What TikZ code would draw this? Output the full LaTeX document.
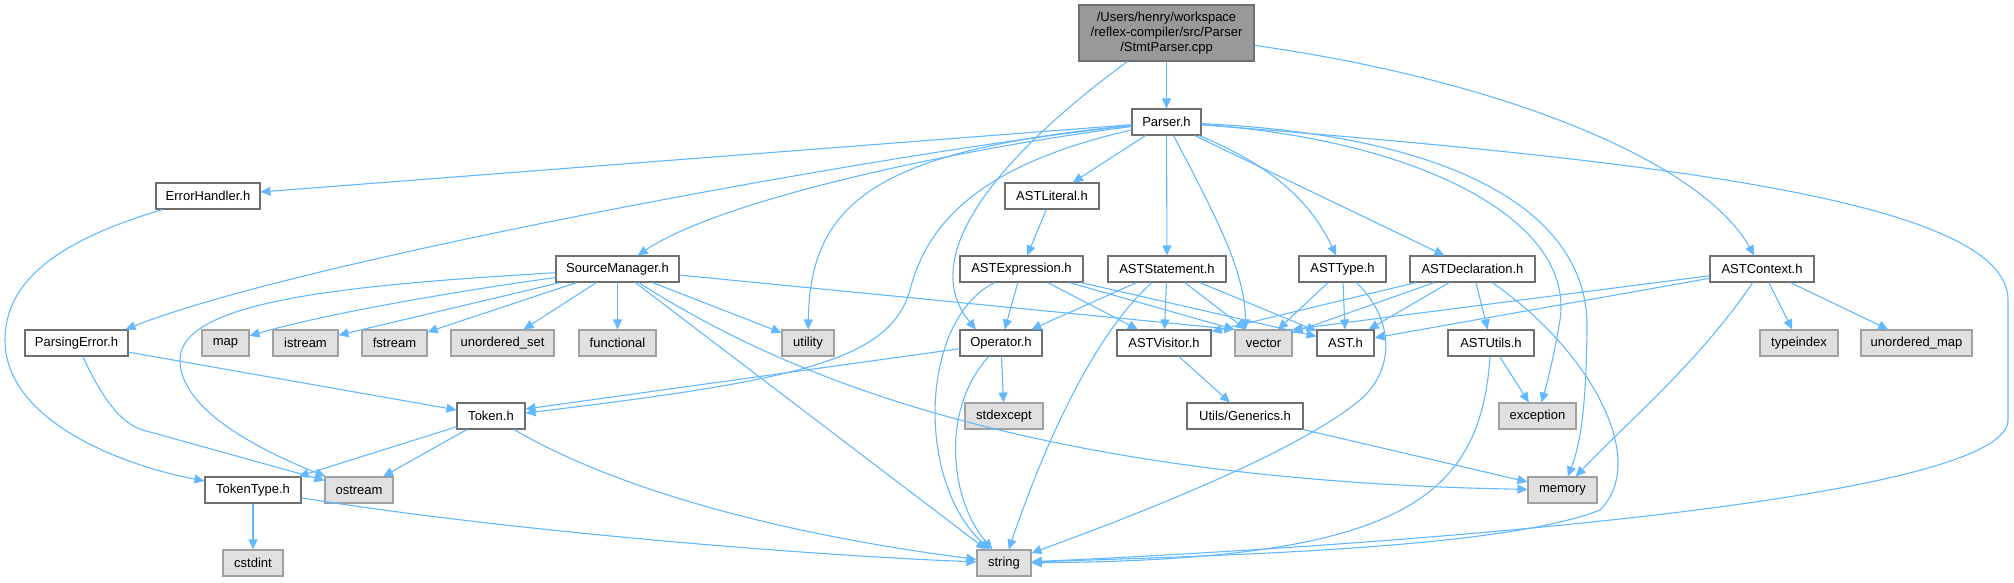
\documentclass[tikz,border=0pt]{standalone}
\usepackage{fontspec}
\setmainfont{Liberation Sans}
\usetikzlibrary{arrows.meta}
\definecolor{eblue}{HTML}{63B8FF}
\definecolor{bdark}{HTML}{707070}
\definecolor{blight}{HTML}{A0A0A0}
\definecolor{gfill}{HTML}{E0E0E0}
\definecolor{rootfill}{HTML}{999999}
\newcommand{\nodefont}{\fontsize{13pt}{15pt}\selectfont}
\tikzset{
  fbox/.style={draw=bdark, fill=white, line width=1.1pt, minimum height=26pt, inner sep=0pt, font=\nodefont, text=black},
  sbox/.style={fbox, draw=blight, fill=gfill},
  rbox/.style={fbox, fill=rootfill, minimum height=56pt, align=center},
  dep/.style={draw=eblue, line width=1.1pt, -{Triangle[length=10pt,width=9pt]}},
}
\begin{document}
\begin{tikzpicture}[x=1pt,y=-1pt]
\useasboundingbox (0,0) rectangle (2014,582);
% nodes
\node[rbox, minimum width=175pt] (root) at (1166.5,33) {/Users/henry/workspace\\/reflex-compiler/src/Parser\\/StmtParser.cpp};
\node[fbox, minimum width=69pt] (parser) at (1166.5,122) {Parser.h};
\node[fbox, minimum width=104pt] (eh) at (208,196) {ErrorHandler.h};
\node[fbox, minimum width=94pt] (lit) at (1052,196) {ASTLiteral.h};
\node[fbox, minimum width=123pt] (sm) at (617.5,269) {SourceManager.h};
\node[fbox, minimum width=123pt] (aexp) at (1021.5,269) {ASTExpression.h};
\node[fbox, minimum width=118pt] (astmt) at (1167,269) {ASTStatement.h};
\node[fbox, minimum width=87pt] (atype) at (1342.5,269) {ASTType.h};
\node[fbox, minimum width=125pt] (adecl) at (1472.5,269) {ASTDeclaration.h};
\node[fbox, minimum width=104pt] (actx) at (1762,269) {ASTContext.h};
\node[fbox, minimum width=103pt] (perr) at (76.5,343) {ParsingError.h};
\node[sbox, minimum width=47pt] (map) at (225.5,343) {map};
\node[sbox, minimum width=65pt] (istr) at (305.5,343) {istream};
\node[sbox, minimum width=65pt] (fstr) at (394.5,343) {fstream};
\node[sbox, minimum width=103pt] (uset) at (502.5,343) {unordered\_set};
\node[sbox, minimum width=77pt] (func) at (617.5,343) {functional};
\node[sbox, minimum width=52pt] (util) at (808,343) {utility};
\node[fbox, minimum width=82pt] (op) at (1001,343) {Operator.h};
\node[fbox, minimum width=94pt] (visit) at (1164,343) {ASTVisitor.h};
\node[sbox, minimum width=57pt] (vec) at (1263.5,343) {vector};
\node[fbox, minimum width=57pt] (ast) at (1345.5,343) {AST.h};
\node[fbox, minimum width=86pt] (autil) at (1491,343) {ASTUtils.h};
\node[sbox, minimum width=78pt] (tidx) at (1799,343) {typeindex};
\node[sbox, minimum width=111pt] (umap) at (1916.5,343) {unordered\_map};
\node[fbox, minimum width=68pt] (tok) at (491,416) {Token.h};
\node[sbox, minimum width=78pt] (stdex) at (1004,416) {stdexcept};
\node[fbox, minimum width=116pt] (gen) at (1245,416) {Utils/Generics.h};
\node[sbox, minimum width=77pt] (exc) at (1537.5,416) {exception};
\node[fbox, minimum width=96pt] (ttype) at (253,490) {TokenType.h};
\node[sbox, minimum width=68pt] (ostr) at (359,490) {ostream};
\node[sbox, minimum width=69pt] (mem) at (1562.5,490) {memory};
\node[sbox, minimum width=60pt] (cstd) at (253,563) {cstdint};
\node[sbox, minimum width=54pt] (str) at (1004,563) {string};
% root
\draw[dep] (root) -- (parser);
\draw[dep] (root) .. controls (1020,140) and (910,250) .. ([xshift=-25pt]op.north);
\draw[dep] (root) .. controls (1500,80) and (1700,160) .. (actx);
% parser
\draw[dep] (parser) -- (eh);
\draw[dep] (parser) .. controls (900,150) and (300,260) .. ([xshift=-3pt]perr.north east);
\draw[dep] (parser) .. controls (950,150) and (720,200) .. (sm);
\draw[dep] (parser) .. controls (1000,160) and (930,210) .. (910,290) .. controls (890,360) and (800,380) .. ([yshift=3pt]tok.east);
\draw[dep] (parser) .. controls (880,150) and (810,200) .. (util);
\draw[dep] (parser) -- (lit);
\draw[dep] (parser) -- (astmt);
\draw[dep] (parser) .. controls (1215,215) and (1245,270) .. ([xshift=-18pt]vec.north);
\draw[dep] (parser) .. controls (1270,165) and (1310,200) .. (atype);
\draw[dep] (parser) -- (adecl);
\draw[dep] (parser) .. controls (1420,140) and (1575,220) .. (1560,320) .. controls (1553,360) and (1548,380) .. (exc);
\draw[dep] (parser) .. controls (1450,135) and (1590,210) .. (1587,330) .. controls (1586,400) and (1582,440) .. (mem);
\draw[dep] (parser) .. controls (1650,160) and (2008,200) .. (2008,300) -- (2008,420) .. controls (2008,500) and (1400,545) .. (str);
% SourceManager
\draw[dep] (sm) .. controls (450,292) and (320,315) .. (map);
\draw[dep] (sm) -- (istr);
\draw[dep] (sm) -- (fstr);
\draw[dep] (sm) -- (uset);
\draw[dep] (sm) -- (func);
\draw[dep] (sm) -- (util);
\draw[dep] (sm) -- (vec.north west);
\draw[dep] (sm) .. controls (760,360) and (1000,480) .. (mem);
\draw[dep] (sm) -- (str);
\draw[dep] (sm) .. controls (350,285) and (180,300) .. (180,360) .. controls (180,410) and (260,450) .. (ostr);
% ParsingError, ErrorHandler
\draw[dep] (perr) -- (tok);
\draw[dep] (perr) .. controls (110,415) and (130,428) .. (150,432) -- (ostr);
\draw[dep] (eh) .. controls (60,240) and (5,280) .. (5,340) .. controls (5,420) and (120,465) .. (ttype);
% Token, TokenType
\draw[dep] (tok) -- ([xshift=-3pt]ttype.north east);
\draw[dep] (tok) -- (ostr);
\draw[dep] (tok) .. controls (600,480) and (750,530) .. (str);
\draw[dep] (ttype) -- (cstd);
\draw[dep] (ttype) .. controls (500,530) and (800,555) .. (str);
% Operator
\draw[dep] (op) -- ([yshift=7pt]tok.east);
\draw[dep] (op) -- (stdex);
\draw[dep] (op) .. controls (940,410) and (950,500) .. (str);
% ASTLiteral, ASTExpression
\draw[dep] (lit) -- (aexp);
\draw[dep] (aexp) .. controls (920,320) and (915,480) .. (str);
\draw[dep] (aexp) -- (op);
\draw[dep] (aexp) -- (visit);
\draw[dep] (aexp) -- (vec.north west);
\draw[dep] (aexp) -- (ast);
% ASTStatement
\draw[dep] (astmt) -- (op);
\draw[dep] (astmt) .. controls (1110,320) and (1060,400) .. (str);
\draw[dep] (astmt) -- (visit);
\draw[dep] (astmt) -- (vec);
\draw[dep] (astmt) -- (ast);
% ASTType
\draw[dep] (atype) -- (vec);
\draw[dep] (atype) -- (ast);
\draw[dep] (atype) .. controls (1395,320) and (1395,370) .. (1360,400) .. controls (1300,450) and (1150,510) .. (str);
% ASTDeclaration
\draw[dep] (adecl) -- (visit);
\draw[dep] (adecl) -- (vec);
\draw[dep] (adecl) -- (ast);
\draw[dep] (adecl) -- (autil);
\draw[dep] (adecl) .. controls (1590,350) and (1650,460) .. (1600,510) .. controls (1500,550) and (1200,556) .. (str);
% ASTUtils
\draw[dep] (autil) -- (exc);
\draw[dep] (autil) .. controls (1480,500) and (1400,560) .. (str);
% ASTContext
\draw[dep] (actx) -- (vec.north east);
\draw[dep] (actx) -- (ast);
\draw[dep] (actx) .. controls (1700,360) and (1640,410) .. (mem);
\draw[dep] (actx) -- (tidx);
\draw[dep] (actx) -- (umap);
% others
\draw[dep] (visit) -- (gen);
\draw[dep] (gen) -- (mem);
\end{tikzpicture}
\end{document}
